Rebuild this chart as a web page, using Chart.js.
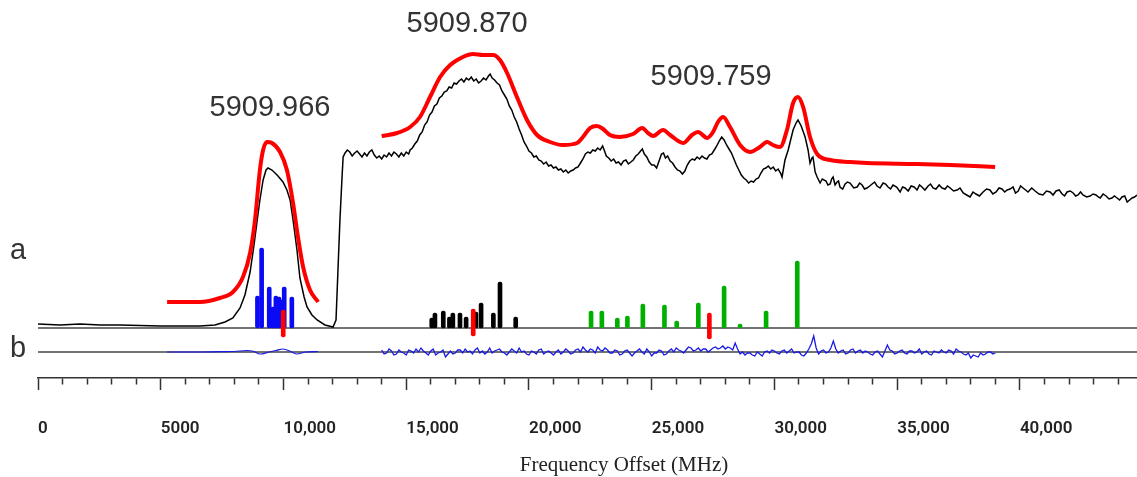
<!DOCTYPE html>
<html>
<head>
<meta charset="utf-8">
<script src="https://cdn.jsdelivr.net/npm/chart.js@4/dist/chart.umd.min.js"></script>
<style>
  html, body { margin: 0; padding: 0; background: #fff; }
  #wrap { width: 1137px; height: 477px; }
</style>
</head>
<body>
<div id="wrap"><canvas id="chartSpec" width="1137" height="477"></canvas></div>
<script>
// x: frequency offset (MHz), y: relative intensity (stick baseline = 0)
// measured spectrum, [freq, intensity]
const expSpectrum = [
	[0,4],[900,3],[1710,4],[2530,3],[3340,3],[4160,2.5],[4970,2],[5790,2],[6600,2],[7210,3],[7620,6],[7940,10],[8230,20],[8430,33],[8640,56],[8800,83],[8920,106],[9040,128],[9170,148],[9290,158],[9370,160],[9530,158],[9740,153],[9980,146],[10140,138],[10270,128],[10390,108],[10550,78],[10670,50],[10840,31],[10960,21],[11160,13],[11370,8],[11690,3],[12020,1],[12140,8],[12220,58],[12300,108],[12390,153],[12430,171],
	[12510,175],[12600,178],[12700,176],[12800,172],[12900,175],[13000,177],[13100,174],[13200,171],[13300,175],[13400,172],[13500,176],[13600,178],[13700,173],[13800,170],[13900,172],[14000,169],[14100,173],[14200,171],[14300,175],[14400,172],[14500,176],[14600,174],[14700,171],[14800,175],[14900,172],[15000,176],[15100,174],[15160,178],
	[15250,180],[15350,184],[15450,187],[15550,193],[15650,196],[15750,203],[15850,206],[15950,213],[16050,216],[16150,222],[16250,224],[16350,230],[16450,232],[16550,236],[16650,237],[16750,241],[16850,240],[16950,245],[17050,244],[17150,247],[17250,249],[17350,246],[17450,250],[17550,248],[17650,251],[17750,247],[17850,249],[17950,245],[18050,247],[18150,250],[18250,248],[18350,252],[18420,254],[18500,250],[18600,248],[18700,245],[18800,243],[18900,237],[19000,233],[19100,229],[19200,222],[19300,218],[19400,211],[19500,206],[19600,199],[19700,193],[19800,186],[19900,182],[20000,177],[20100,175],[20200,171],[20300,172],[20400,168],[20500,167],[20600,164],[20700,166],[20800,162],[20900,163],[21000,160],[21100,161],[21200,158],[21300,159],[21400,156],[21500,158],[21600,155],[21700,157],[21800,158],
	[21900,160],[22000,161],[22100,165],[22200,169],[22300,174],[22400,176],[22500,175],[22600,178],[22700,177],[22800,180],[22900,178],[23000,182],[23080,177],[23150,172],[23250,170],[23350,167],[23450,169],[23550,165],[23650,166],[23750,163],[23850,167],[23950,168],[24050,164],[24150,166],[24250,168],[24350,172],[24450,174],[24550,177],[24620,179],[24700,174],[24800,171],[24900,166],[25000,163],[25100,163],[25200,160],[25300,167],[25400,174],[25480,175],[25560,170],[25650,172],[25750,167],[25850,165],[25950,161],[26050,158],[26150,157],[26250,154],[26350,157],[26450,163],[26550,167],[26650,169],[26750,168],[26850,171],[26950,169],[27050,172],[27150,170],[27250,169],[27350,173],[27450,174],[27550,178],[27650,182],[27750,187],[27850,191],[27950,188],[28050,183],[28150,179],[28250,175],[28350,169],[28450,163],[28550,158],[28650,153],[28750,150],[28850,148],[28950,145],[29050,147],[29150,146],[29250,149],[29350,150],[29450,155],[29550,159],[29650,160],[29750,162],[29850,159],[29950,161],[30050,157],[30150,159],[30250,155],[30310,151],
	[30430,168],[30560,178],[30640,186],[30760,198],[30880,205],[30960,208],[31090,202],[31250,191],[31370,178],[31450,165],[31530,170],[31570,171],[31660,156],[31740,151],[31860,145],[31950,149],[32100,147],[32180,143],[32270,144],[32330,149],[32390,151],[32470,143],[32550,146],[32610,147],[32670,141],[32780,139],[32880,144],[32980,146],[33080,145],[33230,140],[33370,141],[33470,145],[33570,143],[33670,139],[33770,140],[33880,142],[33980,144],[34080,146],[34180,142],[34300,140],[34430,145],[34530,144],[34630,141],[34730,139],[34830,143],[34980,141],[35120,136],[35220,141],[35320,140],[35450,137],[35570,142],[35690,141],[35810,138],[35910,143],[36010,141],[36130,138],[36260,142],[36360,144],[36460,140],[36580,139],[36710,143],[36830,140],[36950,139],[37050,142],[37160,140],[37300,137],[37440,138],[37560,140],[37690,135],[37830,133],[37970,131],[38090,136],[38210,134],[38350,132],[38500,136],[38640,139],[38780,138],[38900,134],[39030,136],[39150,140],[39270,139],[39380,136],[39480,138],[39600,139],[39720,141],[39820,135],[39930,137],[40030,142],[40130,140],[40230,138],[40330,136],[40480,140],[40620,137],[40780,134],[40940,133],[41080,137],[41230,136],[41350,133],[41470,137],[41600,138],[41720,134],[41820,132],[41920,136],[42050,137],[42170,135],[42270,132],[42370,133],[42470,136],[42570,133],[42720,131],[42860,132],[42980,134],[43100,133],[43190,131],[43270,130],[43390,134],[43510,132],[43630,129],[43750,130],[43850,132],[43960,130],[44060,128],[44160,131],[44270,132],[44370,126],[44470,128],[44570,130],[44670,131],[44770,133]
];

const fit1Freq = [5260,6600,7410,7940,8350,8640,8840,9040,9170,9330,9530,9860,10140,10390,10590,10800,11080,11410];
const fit1Int = [26,26,30,36,51,75,108,158,178,186,185,176,158,125,91,61,38,26];
const fit2Freq = [14000,14630,15160,15560,15970,16380,16790,17310,17720,18130,18540,18820,19110,19510,19920,20330,20860,21390,21960,22200,22490,22770,23020,23300,23710,24240,24610,24850,25060,25460,25750,26280,26640,26890,27260,27500,27700,27910,28190,28600,29010,29410,29700,29940,30230,30510,30760,30960,31170,31450,31740,32270,33080,33770,35810,37160,38990];
const fit2Int = [192,195,201,211,231,251,263,271,274,273,273,268,255,231,208,193,186,183,185,191,200,202,199,193,191,194,200,195,192,198,193,185,193,196,190,196,206,211,201,183,176,181,186,183,181,198,225,231,221,191,174,168,166,165,164,163,161];

const blueFreq = [8940,9110,9420,9560,9690,9820,9940,10030,10340];
const blueInt = [32,80,41,21,32,31,28,41,31];
const blackFreq = [16040,16170,16510,16760,16900,17190,17440,17840,18050,18550,18820,19460];
const blackInt = [10,15,17,11,15,15,11,16,25,15,46,11];
const greenFreq = [22530,22970,23600,24010,24640,25520,26020,26900,27950,28600,29660,30930];
const greenInt = [17,17,10,12,24,23,7,25,42,4,17,67];
const redFreq = [9990,17730,27350];
const redTop = [18,19,15];
const redBottom = [-9,-8,-11];

// residuals (obs - calc)
const res1Freq = [5260,6600,7400,8000,8500,8800,9040,9420,9700,9980,10300,10520,10920,11410];
const res1Int = [0,0,0.3,0.5,1.5,0.5,-2,0,1.5,3,0.5,-2,0,0.5];
const res2Start = 14000, res2Step = 100;
const res2Int = [
	2,-2,-1,3,1,-3,-2,2,0,-1,-3,2,1,-1,3,0,4,1,-1,-3,
	1,3,-3,-1,0,2,-5,-2,1,-2,-1,2,2,-1,3,0,1,-2,2,4,
	-1,1,-2,0,4,-1,1,2,3,0,-1,-3,0,3,1,-1,4,0,1,-2,
	-3,1,0,-2,2,3,-2,0,1,-1,-3,0,2,-2,0,3,1,-2,-1,2,
	3,0,5,2,0,3,2,-1,5,2,1,4,2,-1,-1,2,1,-3,-2,1,
	2,-1,-4,-1,1,3,0,-2,3,0,-4,-1,-1,2,1,-3,-2,1,3,0,
	4,2,1,-1,2,5,4,1,2,4,1,3,3,0,2,4,5,3,4,6,
	3,5,4,2,9,3,-2,0,-3,-1,-1,-3,-4,0,-2,-4,0,1,-1,2,
	1,-1,-2,1,2,-1,1,3,-1,0,0,-3,-4,-1,3,8,16,4,-2,1,
	2,-1,0,4,11,3,-1,1,2,-2,-1,2,3,-1,1,2,-1,1,0,-2,
	-3,0,1,-2,-5,1,7,2,1,-2,-1,1,2,-1,-2,1,1,-1,0,3,
	-2,0,1,-2,-3,1,0,-1,2,0,-1,2,1,-2,3,1,0,-2,-3,-1,
	-6,-3,-4,-5,-1,-3,-2,0,0,-2,-1
];

const tickValues = [0,5000,10000,15000,20000,25000,30000,35000,40000];
const tickLabels = ['0','5000','10,000','15,000','20,000','25,000','30,000','35,000','40,000'];
const peakLabels = ['5909.966','5909.870','5909.759'];
const traceLabels = ['a','b'];

const xMax = 44770, minorStep = 1000, resBase = -24;

const pts = (xs, ys, off) => xs.map((x, i) => ({x: x, y: ys[i] + (off || 0)}));
const sticks = (xs, lo, hi) => xs.map((x, i) => ({x: x, y: [Array.isArray(lo) ? lo[i] : lo, hi[i]]}));
const lineSet = (data, color, width, order, smooth) => ({
	type: 'line', data: data, borderColor: color, borderWidth: width, pointRadius: 0,
	tension: smooth ? 0.4 : 0, cubicInterpolationMode: smooth ? 'monotone' : 'default', order: order
});
const stickSet = (data, color, order) => ({
	type: 'bar', data: data, backgroundColor: color, borderWidth: 0, barThickness: 4,
	grouped: false, borderRadius: 2, borderSkipped: false, order: order
});

const expData = expSpectrum.map(p => ({x: p[0], y: p[1]}));
const res2 = res2Int.map((v, i) => ({x: res2Start + i * res2Step, y: v + resBase}));

const textPlugin = {
	id: 'textPlugin',
	afterDraw(chart, args, o) {
		const {ctx, chartArea} = chart;
		const x = chart.scales.x, y = chart.scales.y;
		ctx.save();
		ctx.fillStyle = '#333';
		ctx.textAlign = 'center';
		ctx.textBaseline = 'middle';
		ctx.font = '29px "Liberation Sans", Arial, sans-serif';
		peakLabels.forEach((t, i) => ctx.fillText(t, x.getPixelForValue(o.peakAt[i][0]), y.getPixelForValue(o.peakAt[i][1])));
		traceLabels.forEach((t, i) => ctx.fillText(t, chartArea.left - 20, y.getPixelForValue(o.traceAt[i])));
		ctx.fillStyle = '#222';
		ctx.font = '21px "Liberation Serif", "Times New Roman", serif';
		ctx.fillText('Frequency Offset (MHz)', o.titleAt[0], o.titleAt[1]);
		ctx.restore();
	}
};

Chart.defaults.font.family = 'Roboto, "Noto Sans", sans-serif';

var Spec = document.getElementById('chartSpec').getContext('2d');
var chart = new Chart(Spec, {
	type: 'line',
	data: {
		datasets: [
			lineSet([{x: 0, y: 0}, {x: xMax, y: 0}], '#444', 1.5, 9),
			lineSet([{x: 0, y: resBase}, {x: xMax, y: resBase}], '#444', 1.5, 9),
			lineSet(expData, '#000', 1.5, 8),
			lineSet(pts(fit1Freq, fit1Int), '#ff0000', 4, 7, true),
			lineSet(pts(fit2Freq, fit2Int), '#ff0000', 4, 7, true),
			lineSet(pts(res1Freq, res1Int, resBase), '#1a1ae6', 1.2, 6, true),
			lineSet(res2, '#1a1ae6', 1.3, 6),
			stickSet(sticks(blueFreq, 0, blueInt), '#0a0af5', 3),
			stickSet(sticks(blackFreq, 0, blackInt), '#000', 3),
			stickSet(sticks(greenFreq, 0, greenInt), '#00b000', 3),
			stickSet(sticks(redFreq, redBottom, redTop), '#ff0000', 1)
		]
	},
	options: {
		responsive: false,
		animation: false,
		events: [],
		layout: { padding: { left: 38, right: 0, top: 0, bottom: 0 } },
		plugins: {
			legend: { display: false },
			tooltip: { enabled: false },
			textPlugin: {
				peakAt: [[9450, 220], [17480, 304], [27420, 251]],
				traceAt: [77, -21],
				titleAt: [624, 465]
			}
		},
		scales: {
			x: {
				type: 'linear', min: 0, max: xMax, offset: false,
				afterBuildTicks: s => {
					const t = [];
					for (let v = 0; v <= xMax; v += minorStep) t.push({value: v});
					s.ticks = t;
				},
				afterFit: s => { s.height = 99; s.paddingLeft = 0; s.paddingRight = 0; },
				border: { display: true, color: '#333', width: 1.5 },
				grid: {
					offset: false, drawOnChartArea: false, tickLength: 12, tickWidth: 1.5, tickColor: '#333',
					tickBorderDash: c => c.tick && c.tick.value % 5000 ? [6, 40] : []
				},
				ticks: {
					autoSkip: false, maxRotation: 0, align: 'start', padding: 29,
					color: '#222', font: { size: 17, weight: 600 },
					callback: v => { const i = tickValues.indexOf(v); return i < 0 ? '' : tickLabels[i]; }
				}
			},
			y: { type: 'linear', display: false, min: -50, max: 328 }
		}
	},
	plugins: [textPlugin]
});
</script>
</body>
</html>
